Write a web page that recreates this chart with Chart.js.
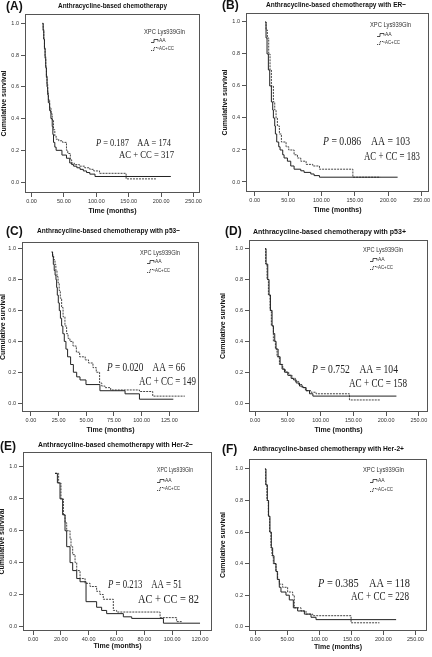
<!DOCTYPE html>
<html>
<head>
<meta charset="utf-8">
<script src="https://cdn.jsdelivr.net/npm/chart.js@4.4.1/dist/chart.umd.min.js"></script>
<style>
html, body { margin: 0; padding: 0; background: #fff; width: 432px; height: 657px; overflow: hidden; position: relative; }
canvas { position: absolute; }
</style>
</head>
<body>
<script>
// ---- data ----
const survTicks = [0, 0.2, 0.4, 0.6, 0.8, 1.0];
const timeTicks250 = [0, 50, 100, 150, 200, 250];
const timeTicks125 = [0, 25, 50, 75, 100, 125];
const timeTicks120 = [0, 20, 40, 60, 80, 100, 120];

const panelLetters = ["(A)", "(B)", "(C)", "(D)", "(E)", "(F)"];
const panelTitles = [
    "Anthracycline-based chemotherapy",
    "Anthracycline-based chemotherapy with ER\u2212",
    "Anthracycline-based chemotherapy with p53\u2212",
    "Anthracycline-based chemotherapy with p53+",
    "Anthracycline-based chemotherapy with Her-2\u2212",
    "Anthracycline-based chemotherapy with Her-2+"
];
const pValues = ["0.187", "0.086", "0.020", "0.752", "0.213", "0.385"];
const countsAA = ["174", "103", "66", "104", "51", "118"];
const countsACCC = ["317", "183", "149", "158", "82", "228"];
const seriesNames = ["AA", "AC+CC"];
const legendTitle = "XPC Lys939Gln";

// (A) all patients
const aTimeAA = [17, 18, 19, 20, 21, 22, 23, 24, 25, 26, 28, 30, 32, 33, 34, 36, 38, 47, 54, 59, 62, 65, 70, 75, 80, 85, 90, 98, 215];
const aSurvAA = [1.0, 0.96, 0.9, 0.84, 0.78, 0.72, 0.66, 0.6, 0.55, 0.5, 0.45, 0.4, 0.35, 0.3, 0.25, 0.22, 0.2, 0.17, 0.15, 0.12, 0.11, 0.1, 0.09, 0.08, 0.07, 0.06, 0.05, 0.035, 0.035];
const aTimeAC = [17, 18, 19, 20, 21, 22, 23, 24, 25, 26, 28, 30, 32, 34, 36, 38, 42, 48, 54, 56, 60, 62, 66, 74, 82, 90, 96, 105, 146, 192];
const aSurvAC = [1.0, 0.95, 0.9, 0.85, 0.79, 0.73, 0.67, 0.62, 0.57, 0.52, 0.47, 0.43, 0.39, 0.33, 0.29, 0.27, 0.26, 0.25, 0.2, 0.18, 0.14, 0.12, 0.11, 0.1, 0.09, 0.08, 0.07, 0.055, 0.02, 0.02];

// (B) ER-
const bTimeAA = [16, 17, 18.5, 20.5, 22.5, 25, 27, 28, 30, 31, 33, 36, 38, 42, 44, 49, 54, 59, 69, 74, 84, 89, 97, 214];
const bSurvAA = [1.0, 0.9, 0.8, 0.7, 0.6, 0.5, 0.45, 0.4, 0.35, 0.3, 0.25, 0.22, 0.2, 0.17, 0.15, 0.13, 0.1, 0.08, 0.07, 0.06, 0.05, 0.04, 0.03, 0.03];
const bTimeAC = [16, 17, 19, 21, 23, 25, 28, 30, 32, 34, 37, 40, 47, 51, 59, 64, 69, 77, 87, 97, 147, 188];
const bSurvAC = [1.0, 0.95, 0.9, 0.8, 0.7, 0.6, 0.5, 0.45, 0.4, 0.35, 0.3, 0.25, 0.22, 0.2, 0.17, 0.15, 0.13, 0.11, 0.1, 0.08, 0.03, 0.03];

// (C) p53-
const cTimeAA = [18.7, 19.5, 20.2, 21, 21.8, 22.6, 23.2, 23.8, 24.7, 25.6, 26.6, 27.7, 28.8, 30.1, 31.6, 33.1, 35.8, 38.3, 41.3, 44.3, 49.7, 62.3, 85, 98, 128.6];
const cSurvAA = [0.98, 0.95, 0.9, 0.86, 0.83, 0.8, 0.75, 0.7, 0.65, 0.6, 0.55, 0.5, 0.45, 0.4, 0.35, 0.3, 0.25, 0.2, 0.17, 0.15, 0.12, 0.08, 0.06, 0.025, 0.025];
const cTimeAC = [18.7, 19.5, 20.5, 21.7, 22.5, 23.5, 24.5, 25.5, 26.5, 27.7, 29, 30.7, 32.2, 33.5, 35.2, 38, 41, 44, 49, 52, 56, 59, 62, 64, 67, 72, 98, 110, 139];
const cSurvAC = [0.98, 0.96, 0.93, 0.9, 0.86, 0.82, 0.78, 0.73, 0.68, 0.62, 0.56, 0.5, 0.45, 0.42, 0.4, 0.37, 0.33, 0.3, 0.28, 0.26, 0.23, 0.2, 0.13, 0.11, 0.1, 0.085, 0.075, 0.045, 0.045];

// (D) p53+
const dTimeAA = [15.3, 16.8, 19.4, 21.4, 23.5, 26, 28, 30.1, 32.1, 35.2, 38.3, 41.3, 44.9, 50, 55.1, 58.7, 62.8, 67.9, 73, 78, 83.2, 88.3, 215.8];
const dSurvAA = [1.0, 0.9, 0.8, 0.7, 0.6, 0.5, 0.45, 0.4, 0.35, 0.3, 0.25, 0.22, 0.2, 0.18, 0.16, 0.15, 0.13, 0.11, 0.1, 0.08, 0.06, 0.045, 0.045];
const dTimeAC = [15.3, 16.3, 18.3, 20.4, 22.9, 24.9, 28, 31.1, 33.6, 37.2, 42.3, 46.3, 51.4, 56.5, 61.6, 66.7, 71.8, 76.9, 85.5, 93.2, 144.1, 191.4];
const dSurvAC = [1.0, 0.9, 0.8, 0.7, 0.6, 0.5, 0.4, 0.35, 0.3, 0.25, 0.22, 0.2, 0.18, 0.16, 0.14, 0.12, 0.1, 0.08, 0.07, 0.06, 0.02, 0.02];

// (E) Her-2-
const eTimeAA = [15.8, 17.5, 19.4, 21.3, 23, 24.2, 26.6, 28.5, 31.4, 33.8, 38.1, 45.7, 49.3, 52.9, 64.9, 70.9, 93.7, 120];
const eSurvAA = [0.96, 0.9, 0.8, 0.7, 0.6, 0.5, 0.4, 0.35, 0.3, 0.28, 0.155, 0.12, 0.1, 0.08, 0.06, 0.05, 0.02, 0.02];
const eTimeAC = [15.8, 18.4, 20.1, 21.8, 23, 24.2, 26.6, 27.3, 28.5, 30.2, 31.4, 33.8, 37.4, 41, 45.7, 48.1, 50.5, 57.7, 60.1, 91.3, 103.2, 106.8];
const eSurvAC = [0.96, 0.9, 0.8, 0.7, 0.65, 0.6, 0.55, 0.5, 0.45, 0.4, 0.35, 0.3, 0.27, 0.25, 0.22, 0.2, 0.17, 0.1, 0.09, 0.055, 0.03, 0.03];

// (F) Her-2+
const fTimeAA = [15.1, 16.7, 18.8, 20.8, 22.9, 25, 27.1, 29.2, 32.3, 34.4, 37.5, 40.1, 47.9, 53.1, 59.4, 66.1, 76.6, 87, 94.8, 219.8];
const fSurvAA = [1.0, 0.9, 0.8, 0.7, 0.6, 0.5, 0.45, 0.4, 0.35, 0.3, 0.25, 0.22, 0.2, 0.17, 0.12, 0.1, 0.08, 0.06, 0.045, 0.045];
const fTimeAC = [15.1, 16.1, 18.2, 20.3, 22.4, 24.5, 26, 28.1, 32.3, 34.9, 37.5, 42.7, 50.5, 58.3, 60.9, 71.4, 79.2, 89.6, 149.5, 193.8];
const fSurvAC = [1.0, 0.9, 0.8, 0.7, 0.6, 0.5, 0.45, 0.4, 0.35, 0.3, 0.27, 0.25, 0.22, 0.2, 0.12, 0.1, 0.08, 0.07, 0.025, 0.025];

const timesAA = [aTimeAA, bTimeAA, cTimeAA, dTimeAA, eTimeAA, fTimeAA];
const survAA = [aSurvAA, bSurvAA, cSurvAA, dSurvAA, eSurvAA, fSurvAA];
const timesAC = [aTimeAC, bTimeAC, cTimeAC, dTimeAC, eTimeAC, fTimeAC];
const survAC = [aSurvAC, bSurvAC, cSurvAC, dSurvAC, eSurvAC, fSurvAC];
const timeTicks = [timeTicks250, timeTicks250, timeTicks125, timeTicks250, timeTicks120, timeTicks250];

// ---- layout (page pixels) ----
// canvas: [left, top, width, height]; frame: [L, T, R, B]
const layouts = [
    { canvas: [0, 0, 216, 219], frame: [25, 14, 200, 193], x: [-10, 260], y: [-0.069, 1.059],
      letter: [6, 7], title: [112.5, 6, 109], legend: [144, 32, 41, 151, 41, 49],
      stat: [[96, 171, 143], [119, 174, 155], 11] },
    { canvas: [221, 0, 211, 218], frame: [246, 13, 429, 192], x: [-13, 261], y: [-0.0625, 1.056],
      letter: [222, 6], title: [336, 5, 140], legend: [370, 25, 41, 377, 35, 43],
      stat: [[323, 410, 142], [364, 420, 157], 12.5] },
    { canvas: [-1, 219, 217, 219], frame: [22, 242, 199, 412], x: [-8.1, 151.8], y: [-0.058, 1.045],
      letter: [6, 232], title: [108.5, 231, 143], legend: [140, 253, 40, 147, 262, 271],
      stat: [[107, 185, 368], [139, 196, 382], 11.5] },
    { canvas: [219, 219, 213, 219], frame: [249, 240, 428, 412], x: [-9.2, 264], y: [-0.058, 1.056],
      letter: [225, 232], title: [329.5, 232, 153], legend: [363, 250, 40, 370, 260, 268],
      stat: [[312, 398, 370], [349, 407, 384], 11.5] },
    { canvas: [-2, 438, 218, 216], frame: [23, 452, 212, 631], x: [-7.2, 128.6], y: [-0.029, 1.094],
      letter: [0, 447], title: [115.5, 445, 155], legend: [157, 470, 36, 157, 481, 489],
      stat: [[108, 182, 585], [138, 199, 600], 12] },
    { canvas: [219, 438, 213, 217], frame: [249, 459, 427, 631], x: [-9.8, 268], y: [-0.027, 1.063],
      letter: [222, 450], title: [328.5, 449, 151], legend: [363, 470, 41, 370, 481, 490],
      stat: [[318, 410, 584], [351, 409, 597], 11.5] }
];

const ink = "#222";
const frameColor = "#555";
const sans = "'Liberation Sans', Arial, sans-serif";
const serif = "'Liberation Serif', 'Times New Roman', serif";

function drawSqueezed(ctx, parts, x, y, width, size) {
    // draws text pieces compressed horizontally to fill the given width
    let natural = 0;
    parts.forEach(p => {
        ctx.font = (p.italic ? "italic " : "") + size + "px " + serif;
        natural += ctx.measureText(p.text).width;
    });
    const s = width / natural;
    ctx.save();
    ctx.translate(x, y);
    ctx.scale(s, 1);
    let cx = 0;
    parts.forEach(p => {
        ctx.font = (p.italic ? "italic " : "") + size + "px " + serif;
        ctx.fillText(p.text, cx, 0);
        cx += ctx.measureText(p.text).width;
    });
    ctx.restore();
}

function legendGlyph(ctx, x, y, dashed) {
    ctx.save();
    ctx.lineWidth = 0.8;
    ctx.strokeStyle = ink;
    ctx.setLineDash(dashed ? [1.2, 0.8] : []);
    ctx.beginPath();
    ctx.moveTo(x, y + 1.5);
    ctx.lineTo(x + 3, y + 1.5);
    ctx.lineTo(x + 3, y - 1.5);
    ctx.lineTo(x + 7, y - 1.5);
    ctx.lineTo(x + 7, y + 0.5);
    ctx.stroke();
    ctx.restore();
}

const decor = {
    id: "decor",
    afterDraw(chart, args, opts) {
        const i = opts.index;
        const lay = layouts[i];
        const ox = lay.canvas[0], oy = lay.canvas[1];
        const ctx = chart.ctx;
        const ca = chart.chartArea;

        ctx.save();
        // plot frame
        ctx.strokeStyle = frameColor;
        ctx.lineWidth = 1;
        ctx.strokeRect(Math.round(ca.left) + 0.5, Math.round(ca.top) + 0.5,
            Math.round(ca.right - ca.left) - 1, Math.round(ca.bottom - ca.top) - 1);

        ctx.fillStyle = "#111";
        ctx.textBaseline = "middle";

        // panel letter
        ctx.font = "bold 12px " + sans;
        ctx.textAlign = "left";
        ctx.fillText(panelLetters[i], lay.letter[0] - ox, lay.letter[1] - oy);

        // panel title
        ctx.font = "bold 8px " + sans;
        ctx.textAlign = "center";
        ctx.fillText(panelTitles[i], lay.title[0] - ox, lay.title[1] - oy, lay.title[2]);

        // legend
        const lg = lay.legend;
        ctx.fillStyle = "#333";
        ctx.textAlign = "left";
        ctx.font = "6.5px " + sans;
        ctx.fillText(legendTitle, lg[0] - ox, lg[1] - oy, lg[2]);
        ctx.font = "5px " + sans;
        legendGlyph(ctx, lg[3] - ox, lg[4] - oy, false);
        ctx.fillText(seriesNames[0], lg[3] + 8 - ox, lg[4] - oy);
        legendGlyph(ctx, lg[3] - ox, lg[5] - oy, true);
        ctx.fillText(seriesNames[1], lg[3] + 8 - ox, lg[5] - oy, 15);

        // statistics
        const st = lay.stat;
        ctx.fillStyle = "#222";
        ctx.textAlign = "left";
        drawSqueezed(ctx, [
            { text: "P", italic: true },
            { text: " = " + pValues[i] + "    AA = " + countsAA[i] }
        ], st[0][0] - ox, st[0][2] - oy, st[0][1] - st[0][0], st[2]);
        drawSqueezed(ctx, [
            { text: "AC + CC = " + countsACCC[i] }
        ], st[1][0] - ox, st[1][2] - oy, st[1][1] - st[1][0], st[2]);

        ctx.restore();
    }
};

function buildPanel(i) {
    const lay = layouts[i];
    const [cl, ct, cw, ch] = lay.canvas;
    const [fl, ft, fr, fb] = lay.frame;
    const yAxisWidth = fl - cl;
    const xAxisHeight = ct + ch - fb;

    const cv = document.createElement("canvas");
    cv.width = cw;
    cv.height = ch;
    cv.style.left = cl + "px";
    cv.style.top = ct + "px";
    cv.style.width = cw + "px";
    cv.style.height = ch + "px";
    document.body.appendChild(cv);

    const tickFont = { family: sans, size: 5.5 };
    const titleFont = { family: sans, size: 7, weight: "bold" };

    new Chart(cv, {
        type: "line",
        data: {
            datasets: [
                {
                    label: seriesNames[0],
                    data: timesAA[i].map((t, k) => ({ x: t, y: survAA[i][k] })),
                    borderColor: ink,
                    borderWidth: 1,
                    stepped: "before",
                    pointRadius: 0,
                    fill: false
                },
                {
                    label: seriesNames[1],
                    data: timesAC[i].map((t, k) => ({ x: t, y: survAC[i][k] })),
                    borderColor: "#444",
                    borderWidth: 1,
                    borderDash: [2, 1],
                    stepped: "before",
                    pointRadius: 0,
                    fill: false
                }
            ]
        },
        options: {
            responsive: false,
            animation: false,
            events: [],
            layout: { padding: { top: ft - ct, right: cl + cw - fr, left: 0, bottom: 0 } },
            plugins: {
                legend: { display: false },
                tooltip: { enabled: false },
                decor: { index: i }
            },
            scales: {
                x: {
                    type: "linear",
                    min: lay.x[0],
                    max: lay.x[1],
                    afterBuildTicks: (s) => { s.ticks = timeTicks[i].map(v => ({ value: v })); },
                    afterFit: (s) => {
                        s.height = xAxisHeight;
                        s.paddingLeft = 0;
                        s.paddingRight = 0;
                    },
                    ticks: {
                        autoSkip: false,
                        maxRotation: 0,
                        padding: 1,
                        color: "#333",
                        font: tickFont,
                        callback: (v) => Number(v).toFixed(2)
                    },
                    grid: { drawOnChartArea: false, tickLength: 4, color: frameColor },
                    border: { display: false },
                    title: {
                        display: true,
                        text: "Time (months)",
                        color: "#111",
                        font: titleFont,
                        padding: { top: 0, bottom: 4 }
                    }
                },
                y: {
                    type: "linear",
                    min: lay.y[0],
                    max: lay.y[1],
                    afterBuildTicks: (s) => { s.ticks = survTicks.map(v => ({ value: v })); },
                    afterFit: (s) => {
                        s.width = yAxisWidth;
                        s.paddingTop = 0;
                        s.paddingBottom = 0;
                    },
                    ticks: {
                        autoSkip: false,
                        padding: 2,
                        color: "#333",
                        font: tickFont,
                        callback: (v) => Number(v).toFixed(1)
                    },
                    grid: { drawOnChartArea: false, tickLength: 4, color: frameColor },
                    border: { display: false },
                    title: {
                        display: true,
                        text: "Cumulative survival",
                        color: "#111",
                        font: titleFont,
                        padding: { top: 0, bottom: 0 }
                    }
                }
            }
        },
        plugins: [decor]
    });
}

for (let i = 0; i < layouts.length; i++) {
    buildPanel(i);
}
</script>
</body>
</html>
